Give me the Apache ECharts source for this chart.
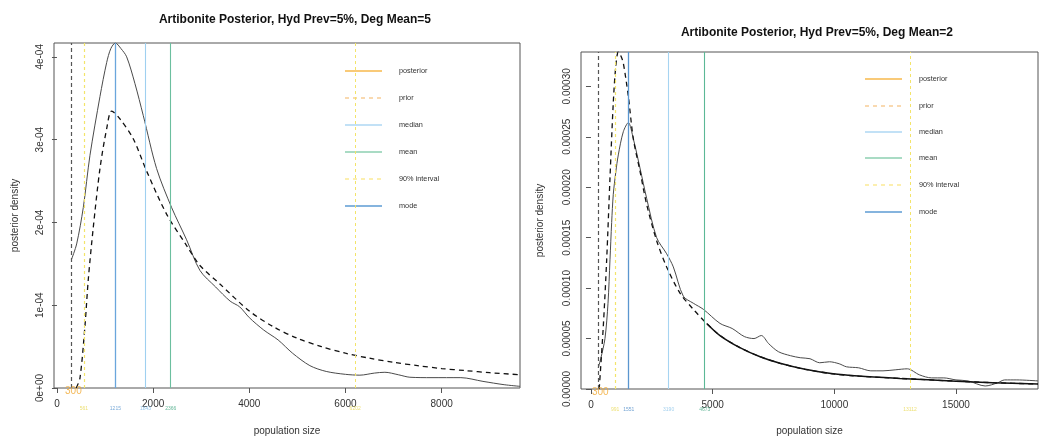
<!DOCTYPE html>
<html><head><meta charset="utf-8">
<script src="https://cdn.jsdelivr.net/npm/echarts@6/dist/echarts.min.js"></script>
<style>html,body{margin:0;padding:0;background:#fff}#c{width:1040px;height:441px}</style>
</head><body><div id="c"></div>
<script>
// ---------- text ----------
const titles = ['Artibonite Posterior, Hyd Prev=5%, Deg Mean=5', 'Artibonite Posterior, Hyd Prev=5%, Deg Mean=2'];
const xTitle = 'population size';
const yTitle = 'posterior density';
const legendLabels = ['posterior', 'prior', 'median', 'mean', '90% interval', 'mode'];

// ---------- ticks ----------
const xTicksL = [0, 2000, 4000, 6000, 8000];
const yTicksL = [0, 1e-4, 2e-4, 3e-4, 4e-4];
const yTickLabelsL = ['0e+00', '1e-04', '2e-04', '3e-04', '4e-04'];
const xTicksR = [0, 5000, 10000, 15000];
const yTicksR = [0, 5e-5, 1e-4, 1.5e-4, 2e-4, 2.5e-4, 3e-4];
const yTickLabelsR = ['0.00000', '0.00005', '0.00010', '0.00015', '0.00020', '0.00025', '0.00030'];

// ---------- axis ranges ----------
const xRangeL = [-62, 9630];
const yMaxL = 4.167e-4;
const xRangeR = [-410, 18370];
const yMaxR = 3.34e-4;

// ---------- summary statistics ----------
const minPopL = 300, intervalL = [561, 6202], modeL = 1215, medianL = 1843, meanL = 2366;
const minPopR = 300, intervalR = [991, 13112], modeR = 1551, medianR = 3190, meanR = 4673;

// ---------- curves: left panel (Deg Mean = 5) ----------
const posteriorL = [[300,1.55e-4],[409,1.74e-4],[547,2.18e-4],[686,2.81e-4],[894,3.52e-4],[1033,3.93e-4],[1120,4.10e-4],[1215,4.167e-4],[1330,4.10e-4],[1449,4.0e-4],[1620,3.68e-4],[1795,3.29e-4],[2072,2.65e-4],[2384,2.18e-4],[2696,1.79e-4],[2973,1.42e-4],[3300,1.22e-4],[3600,1.05e-4],[3800,0.98e-4],[4000,0.85e-4],[4300,0.70e-4],[4600,0.58e-4],[4900,0.42e-4],[5260,0.27e-4],[5600,0.20e-4],[6000,0.165e-4],[6300,0.155e-4],[6600,0.18e-4],[6820,0.19e-4],[7100,0.16e-4],[7340,0.13e-4],[7800,0.125e-4],[8400,0.125e-4],[8860,0.08e-4],[9300,0.04e-4],[9630,0.02e-4]];
const priorL = [[400,0],[478,0.12e-4],[582,0.75e-4],[651,1.31e-4],[755,1.94e-4],[894,2.65e-4],[1033,3.13e-4],[1137,3.345e-4],[1310,3.25e-4],[1586,3.01e-4],[1864,2.62e-4],[2280,2.10e-4],[2696,1.72e-4],[2973,1.48e-4],[3400,1.25e-4],[4000,0.93e-4],[4500,0.74e-4],[5000,0.60e-4],[5500,0.50e-4],[6000,0.42e-4],[6500,0.36e-4],[7000,0.31e-4],[7500,0.27e-4],[8000,0.235e-4],[8500,0.21e-4],[9000,0.185e-4],[9630,0.16e-4]];

// ---------- curves: right panel (Deg Mean = 2) ----------
const posteriorR = [[300,21e-6],[400,30e-6],[575,50e-6],[700,85e-6],[781,128e-6],[850,165e-6],[917,193e-6],[1020,215e-6],[1123,232e-6],[1329,255e-6],[1535,264e-6],[1740,248e-6],[2014,219e-6],[2288,189e-6],[2699,150e-6],[3110,134e-6],[3384,121e-6],[3795,92e-6],[4206,85e-6],[4617,79e-6],[5302,65e-6],[5800,60e-6],[6300,52e-6],[6700,50e-6],[7000,53e-6],[7300,45e-6],[7700,37e-6],[8200,33e-6],[8600,31e-6],[9000,30e-6],[9400,26e-6],[9800,27e-6],[10200,25e-6],[10500,22e-6],[11000,21e-6],[11500,18e-6],[12000,18e-6],[12500,19e-6],[13000,20e-6],[13500,14e-6],[14000,11e-6],[14500,11e-6],[15000,9e-6],[15500,8e-6],[16200,3e-6],[16700,6e-6],[17000,9e-6],[17500,9e-6],[18370,8e-6]];
const priorR = [[330,0],[341,1e-6],[506,62e-6],[645,128e-6],[781,209e-6],[917,284e-6],[1020,320e-6],[1123,334e-6],[1230,330e-6],[1329,323e-6],[1535,290e-6],[1740,248e-6],[2014,216e-6],[2288,183e-6],[2699,147e-6],[3110,121e-6],[3658,95e-6],[4206,79e-6],[4754,65e-6],[5302,53e-6],[6120,41e-6],[6950,32e-6],[7770,25.5e-6],[8800,19.5e-6],[9950,15e-6],[11000,12.8e-6],[12700,10.5e-6],[15000,7.8e-6],[16500,6.3e-6],[18370,4.9e-6]];
const priorSolidFromR = 4700;

// ---------- styles ----------
const FONT = 'Liberation Sans, Arial, Helvetica, sans-serif';
const SMOOTH = 0.3;
const C = {
  axis: '#555', text: '#333', post: '#4a4a4a', prior: '#111', minLine: '#555',
  interval: '#f3e46a', mode: '#6aa6dc', median: '#9fd0f0', mean: '#6cbf9f',
  modeR: '#5a96cf', medianR: '#a6d4f1', meanR: '#5cb896', bound: '#f0a830'
};
const legendStyles = [
  { color: '#f7b84b', dash: null, w: 1.6 },
  { color: '#f7c98f', dash: [4, 4], w: 1.4 },
  { color: '#c2e1f6', dash: null, w: 2 },
  { color: '#8ccfb0', dash: null, w: 1.6 },
  { color: '#fbe88e', dash: [4, 4], w: 1.4 },
  { color: '#5d9bd3', dash: null, w: 1.6 }
];

const chart = echarts.init(document.getElementById('c'), null, { renderer: 'canvas' });

function labelFor(ticks, labels) {
  return v => { const i = ticks.findIndex(t => Math.abs(t - v) < 1e-9 * Math.max(1, Math.abs(t))); return i >= 0 ? labels[i] : ''; };
}
function xAxisCfg(grid, range, ticks, gap) {
  return {
    type: 'value', gridIndex: grid, min: range[0], max: range[1],
    axisLine: { show: false },
    axisTick: { show: true, length: 5, customValues: ticks, lineStyle: { color: C.axis } },
    axisLabel: { customValues: ticks, fontSize: 10, fontFamily: FONT, color: C.text, margin: 11, formatter: v => String(Math.round(v)) },
    splitLine: { show: false },
    name: xTitle, nameLocation: 'middle', nameGap: gap,
    nameTextStyle: { fontSize: 10, fontFamily: FONT, color: C.text }
  };
}
function yAxisCfg(grid, max, ticks, labels, gap) {
  return {
    type: 'value', gridIndex: grid, min: 0, max: max,
    axisLine: { show: false },
    axisTick: { show: true, length: 5, customValues: ticks, lineStyle: { color: C.axis } },
    axisLabel: { customValues: ticks, rotate: 90, fontSize: 10, fontFamily: FONT, color: C.text, margin: 9, formatter: labelFor(ticks, labels) },
    splitLine: { show: false },
    name: yTitle, nameLocation: 'middle', nameGap: gap, nameRotate: 90,
    nameTextStyle: { fontSize: 10, fontFamily: FONT, color: C.text }
  };
}
function vlines(minPop, interval, mode, median, mean, cm) {
  return {
    symbol: 'none', silent: true, label: { show: false },
    data: [
      { xAxis: minPop, lineStyle: { color: C.minLine, type: [4, 3], width: 1.2 } },
      { xAxis: interval[0], lineStyle: { color: C.interval, type: [3, 3], width: 1.2 } },
      { xAxis: interval[1], lineStyle: { color: C.interval, type: [3, 3], width: 1 } },
      { xAxis: mode, lineStyle: { color: cm.mode, type: 'solid', width: 1.3 } },
      { xAxis: median, lineStyle: { color: cm.median, type: 'solid', width: 1.1 } },
      { xAxis: mean, lineStyle: { color: cm.mean, type: 'solid', width: 1.1 } }
    ]
  };
}
function statLabels(idx, items) {
  return {
    type: 'scatter', xAxisIndex: idx, yAxisIndex: idx, symbolSize: 0, clip: false, silent: true, z: 5,
    data: items.map(it => ({ value: [it[0], 0], label: { color: it[1] } })),
    label: { show: true, position: 'bottom', distance: 18, fontSize: 5, fontFamily: FONT, formatter: p => String(p.value[0]) }
  };
}
function boundLabel(idx, v) {
  return {
    type: 'scatter', xAxisIndex: idx, yAxisIndex: idx, symbolSize: 0, clip: false, silent: true, z: 6,
    data: [[v, 0]],
    label: { show: true, position: 'inside', offset: [2, 3], fontSize: 10, fontFamily: FONT, color: C.bound, formatter: p => String(p.value[0]) }
  };
}
function legendGraphics(x1, x2, tx, ys) {
  const g = [];
  legendLabels.forEach((lab, i) => {
    const s = legendStyles[i];
    g.push({ type: 'line', silent: true, shape: { x1: x1, y1: ys[i], x2: x2, y2: ys[i] },
      style: { stroke: s.color, lineWidth: s.w, lineDash: s.dash || null } });
    g.push({ type: 'text', silent: true, x: tx, y: ys[i],
      style: { text: lab, fill: C.text, fontSize: 7.3, fontFamily: FONT, verticalAlign: 'middle', align: 'left' } });
  });
  return g;
}
function curve(idx, data, style) {
  return { type: 'line', xAxisIndex: idx, yAxisIndex: idx, data: data, showSymbol: false, smooth: SMOOTH, lineStyle: style, z: 3 };
}

const postL = curve(0, posteriorL, { color: C.post, width: 1 });
postL.markLine = vlines(minPopL, intervalL, modeL, medianL, meanL, { mode: C.mode, median: C.median, mean: C.mean });
const postR = curve(1, posteriorR, { color: C.post, width: 1 });
postR.markLine = vlines(minPopR, intervalR, modeR, medianR, meanR, { mode: C.modeR, median: C.medianR, mean: C.meanR });

const option = {
  backgroundColor: '#fff',
  animation: false,
  title: [
    { text: titles[0], left: 290, top: 9, textAlign: 'center', textStyle: { fontSize: 12, fontWeight: 'bold', fontFamily: FONT, color: '#111' } },
    { text: titles[1], left: 812, top: 22, textAlign: 'center', textStyle: { fontSize: 12, fontWeight: 'bold', fontFamily: FONT, color: '#111' } }
  ],
  grid: [
    { left: 54, top: 43, width: 466, height: 350, show: true, borderColor: C.axis, borderWidth: 1, backgroundColor: 'transparent' },
    { left: 581, top: 52, width: 457, height: 342, show: true, borderColor: C.axis, borderWidth: 1, backgroundColor: 'transparent' }
  ],
  xAxis: [xAxisCfg(0, xRangeL, xTicksL, 38), xAxisCfg(1, xRangeR, xTicksR, 37)],
  yAxis: [yAxisCfg(0, yMaxL, yTicksL, yTickLabelsL, 34), yAxisCfg(1, yMaxR, yTicksR, yTickLabelsR, 36)],
  graphic: legendGraphics(345, 382, 399, [71, 98, 125, 152, 179, 206])
    .concat(legendGraphics(865, 902, 919, [79, 106, 132, 158, 185, 212])),
  series: [
    postL,
    curve(0, priorL, { color: C.prior, width: 1.3, type: [5, 4] }),
    statLabels(0, [[intervalL[0], '#e8d850'], [modeL, '#5a96cf'], [medianL, '#7ab8e6'], [meanL, '#3fa57f'], [intervalL[1], '#e8d850']]),
    boundLabel(0, minPopL),
    postR,
    curve(1, priorR, { color: C.prior, width: 1.3, type: [5, 4] }),
    curve(1, priorR.filter(p => p[0] >= priorSolidFromR), { color: C.prior, width: 1.5 }),
    statLabels(1, [[intervalR[0], '#e8d850'], [modeR, '#4f8cc8'], [medianR, '#8cc4ea'], [meanR, '#3fa57f'], [intervalR[1], '#e8d850']]),
    boundLabel(1, minPopR)
  ]
};
chart.setOption(option);
</script>
</body></html>
